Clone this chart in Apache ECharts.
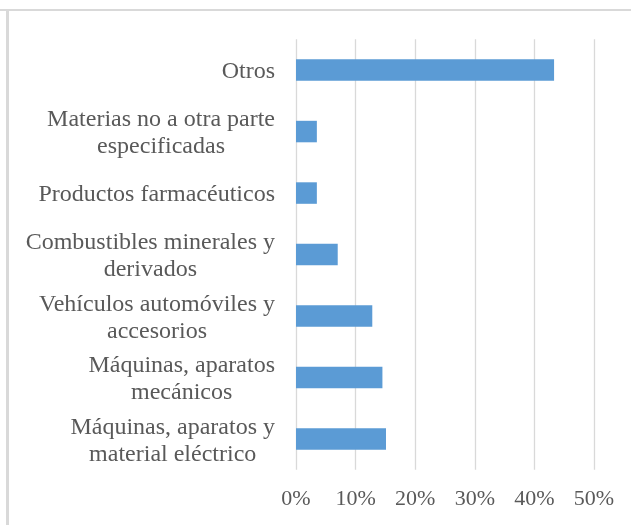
<!DOCTYPE html>
<html>
<head>
<meta charset="utf-8">
<script src="https://cdn.jsdelivr.net/npm/echarts@6/dist/echarts.min.js"></script>
<style>
  html, body { margin: 0; padding: 0; background: #ffffff; }
  #chart { width: 631px; height: 525px; }
</style>
</head>
<body>
<div id="chart"></div>
<script>
// Category names (bottom to top), split into display lines
const categories = [
  ['Máquinas, aparatos y', 'material eléctrico'],
  ['Máquinas, aparatos', 'mecánicos'],
  ['Vehículos automóviles y', 'accesorios'],
  ['Combustibles minerales y', 'derivados'],
  ['Productos farmacéuticos'],
  ['Materias no a otra parte', 'especificadas'],
  ['Otros']
];

// Share of each category, in percent
const shares = [15.1, 14.5, 12.8, 7.0, 3.5, 3.5, 43.3];

// Value axis ticks, in percent
const xTicks = [0, 10, 20, 30, 40, 50];

const categoryNames = categories.map(lines => lines.join('\n'));

const chart = echarts.init(document.getElementById('chart'), null, { renderer: 'canvas' });

const textColor = '#595959';
const serif = '"Liberation Serif", "Times New Roman", serif';

chart.setOption({
  animation: false,
  backgroundColor: '#ffffff',
  graphic: [
    // frame lines along the top and left edge
    { type: 'rect', shape: { x: 0, y: 9, width: 631, height: 2 }, style: { fill: '#d9d9d9' }, silent: true },
    { type: 'rect', shape: { x: 6, y: 9, width: 3, height: 516 }, style: { fill: '#d9d9d9' }, silent: true }
  ],
  grid: {
    left: 296,
    right: 37,
    top: 39.3,
    height: 430.5,
    containLabel: false
  },
  xAxis: {
    type: 'value',
    min: xTicks[0],
    max: xTicks[xTicks.length - 1],
    interval: xTicks[1] - xTicks[0],
    axisLine: { show: false },
    axisTick: { show: false },
    splitLine: { show: true, lineStyle: { color: '#d9d9d9', width: 1.3 } },
    axisLabel: {
      formatter: '{value}%',
      color: textColor,
      fontFamily: serif,
      fontSize: 22,
      margin: 18
    }
  },
  yAxis: {
    type: 'category',
    data: categoryNames,
    axisLine: { show: false },
    axisTick: { show: false },
    splitLine: { show: false },
    axisLabel: {
      color: textColor,
      fontFamily: serif,
      fontSize: 24,
      lineHeight: 27,
      margin: 21,
      align: 'right',
      padding: [4, 0, 0, 0],
      formatter: function (value) {
        return value.split('\n').map(line => '{c|' + line + '}').join('\n');
      },
      rich: {
        c: {
          align: 'center',
          color: textColor,
          fontFamily: serif,
          fontSize: 24,
          lineHeight: 27
        }
      }
    }
  },
  series: [{
    type: 'bar',
    data: shares,
    barWidth: 21.5,
    itemStyle: { color: '#5b9bd5' },
    label: { show: false }
  }]
});
</script>
</body>
</html>
